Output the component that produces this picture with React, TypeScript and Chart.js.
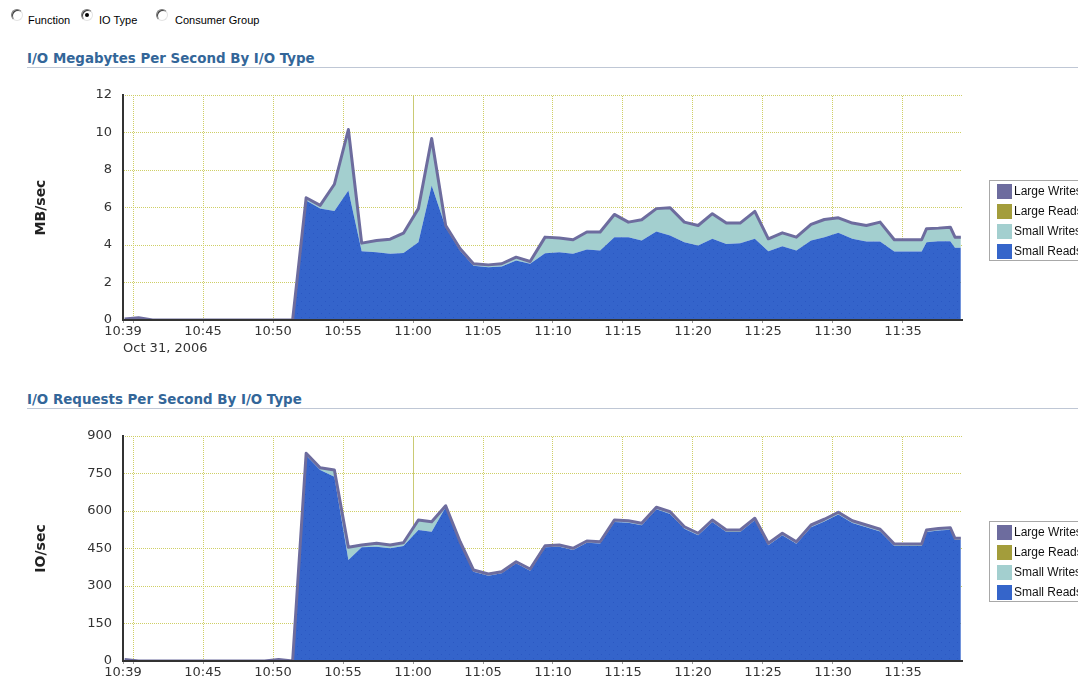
import React, { useEffect, useRef } from 'react';
import { Chart, registerables } from 'chart.js';

Chart.register(...registerables);

// ---------------- DATA ----------------
const sampleTimes = [
  '10:39:24', '10:40:24', '10:41:24', '10:42:24', '10:43:24', '10:44:24', '10:45:24', '10:46:24',
  '10:47:24', '10:48:24', '10:49:24', '10:50:24', '10:51:24', '10:52:22', '10:53:22', '10:54:23',
  '10:55:23', '10:56:20', '10:57:24', '10:58:22', '10:59:19', '11:00:23', '11:01:20', '11:02:20',
  '11:03:22', '11:04:19', '11:05:23', '11:06:20', '11:07:22', '11:08:22', '11:09:26', '11:10:27',
  '11:11:26', '11:12:25', '11:13:22', '11:14:23', '11:15:23', '11:16:20', '11:17:23', '11:18:22',
  '11:19:23', '11:20:22', '11:21:23', '11:22:23', '11:23:22', '11:24:25', '11:25:23', '11:26:23',
  '11:27:23', '11:28:26', '11:29:23', '11:30:23', '11:31:23', '11:32:23', '11:33:22', '11:34:23',
  '11:35:22', '11:36:20', '11:36:41', '11:37:32', '11:38:23', '11:38:43', '11:39:08',
];

// MB/sec
const mbSmallReads = [
  0.04, 0.08, 0, 0, 0, 0, 0, 0, 0, 0, 0, 0, 0, 6.38, 5.95, 5.81,
  6.91, 3.67, 3.62, 3.53, 3.58, 4.15, 7.18, 4.95, 3.7, 2.9, 2.81, 2.85, 3.17, 3.0, 3.56, 3.62,
  3.53, 3.76, 3.71, 4.42, 4.42, 4.24, 4.72, 4.51, 4.15, 3.97, 4.33, 4.06, 4.1, 4.33, 3.67, 3.94,
  3.71, 4.24, 4.42, 4.65, 4.33, 4.19, 4.19, 3.65, 3.65, 3.65, 4.15, 4.2, 4.2, 3.85, 3.85,
];
const mbSmallWrites = [
  0.01, 0.04, 0, 0, 0, 0, 0, 0, 0, 0, 0, 0, 0, 0.14, 0.16, 1.43,
  3.25, 0.43, 0.62, 0.78, 1.05, 1.79, 2.5, 0.09, 0.1, 0.1, 0.13, 0.15, 0.18, 0.12, 0.86, 0.75,
  0.75, 0.93, 0.98, 1.21, 0.8, 1.11, 1.22, 1.48, 1.07, 1.07, 1.34, 1.11, 1.07, 1.46, 0.66, 0.71,
  0.71, 0.86, 0.94, 0.8, 0.84, 0.85, 1.03, 0.63, 0.63, 0.63, 0.72, 0.7, 0.75, 0.57, 0.57,
];
const mbLargeReads = [
  0, 0, 0, 0, 0, 0, 0, 0, 0, 0, 0, 0, 0, 0, 0, 0, 0, 0, 0, 0, 0, 0, 0, 0, 0, 0, 0, 0, 0, 0, 0, 0,
  0, 0, 0, 0, 0, 0, 0, 0, 0, 0, 0, 0, 0, 0, 0, 0, 0, 0, 0, 0, 0, 0, 0, 0, 0, 0, 0, 0, 0, 0, 0,
];
const mbLargeWrites = [
  0, 0, 0, 0, 0, 0, 0, 0, 0, 0, 0, 0, 0, 0, 0, 0, 0, 0, 0, 0, 0, 0, 0, 0, 0, 0, 0, 0, 0, 0, 0, 0,
  0, 0, 0, 0, 0, 0, 0, 0, 0, 0, 0, 0, 0, 0, 0, 0, 0, 0, 0, 0, 0, 0, 0, 0, 0, 0, 0, 0, 0, 0, 0,
];

// IO/sec
const ioSmallReads = [
  4, 0, 0, 0, 0, 0, 0, 0, 0, 0, 0, 4, 0, 822, 764, 737,
  404, 455, 457, 451, 460, 524, 517, 615, 471, 357, 341, 351, 391, 361, 455, 457,
  444, 473, 470, 556, 553, 543, 607, 588, 529, 503, 556, 516, 516, 563, 463, 503,
  469, 535, 558, 586, 552, 535, 518, 460, 460, 460, 516, 522, 525, 484, 484,
];
const ioSmallWrites = [
  2, 0, 0, 0, 0, 0, 0, 0, 0, 0, 0, 2, 0, 9, 9, 27,
  51, 9, 14, 13, 13, 40, 40, 6, 6, 7, 7, 6, 6, 7, 6, 7,
  7, 7, 7, 8, 8, 8, 8, 9, 8, 8, 8, 8, 8, 8, 8, 8,
  8, 9, 9, 9, 9, 9, 9, 8, 8, 8, 8, 8, 8, 7, 7,
];
const ioLargeReads = [
  0, 0, 0, 0, 0, 0, 0, 0, 0, 0, 0, 0, 0, 0, 0, 0, 0, 0, 0, 0, 0, 0, 0, 0, 0, 0, 0, 0, 0, 0, 0, 0,
  0, 0, 0, 0, 0, 0, 0, 0, 0, 0, 0, 0, 0, 0, 0, 0, 0, 0, 0, 0, 0, 0, 0, 0, 0, 0, 0, 0, 0, 0, 0,
];
const ioLargeWrites = [
  0, 0, 0, 0, 0, 0, 0, 0, 0, 0, 0, 0, 0, 0, 0, 0, 0, 0, 0, 0, 0, 0, 0, 0, 0, 0, 0, 0, 0, 0, 0, 0,
  0, 0, 0, 0, 0, 0, 0, 0, 0, 0, 0, 0, 0, 0, 0, 0, 0, 0, 0, 0, 0, 0, 0, 0, 0, 0, 0, 0, 0, 0, 0,
];

const seriesNames = ['Small Reads', 'Small Writes', 'Large Reads', 'Large Writes'];
const seriesColors = ['#3565CA', '#A3CFCF', '#A39D3B', '#6D6C9E'];

const axisStart = '10:39:17';
const axisEnd = '11:39:13';
const dateLabel = 'Oct 31, 2006';
const gridTimes = ['10:40', '10:45', '10:50', '10:55', '11:00', '11:05', '11:10', '11:15', '11:20', '11:25', '11:30', '11:35'];
const hourLine = '11:00';

const mbTicks = [0, 2, 4, 6, 8, 10, 12];
const ioTicks = [0, 150, 300, 450, 600, 750, 900];

const radioOptions = ['Function', 'IO Type', 'Consumer Group'];
const selectedRadio = 'IO Type';
const chartTitles = ['I/O Megabytes Per Second By I/O Type', 'I/O Requests Per Second By I/O Type'];
const yAxisTitles = ['MB/sec', 'IO/sec'];

// ---------------- HELPERS ----------------
const FONT = 'DejaVu Sans';
const SMALL_FONT = 'Liberation Sans';
const parseTime = (t: string) => {
  const [h, m, s] = t.split(':').map(Number);
  return h * 60 + m + (s || 0) / 60;
};
const fmtTime = (v: number) => {
  const h = Math.floor(v / 60 + 1e-9);
  const m = Math.floor(v - h * 60 + 1e-6);
  return `${h}:${String(m).padStart(2, '0')}`;
};

function makeDotPattern(color: string) {
  const c = document.createElement('canvas');
  c.width = 2;
  c.height = 2;
  const g = c.getContext('2d')!;
  g.fillStyle = color;
  g.fillRect(0, 0, 1, 1);
  g.fillRect(1, 1, 1, 1);
  return g.createPattern(c, 'repeat')!;
}
function makeFillPattern(base: string, dot: string) {
  const c = document.createElement('canvas');
  c.width = 8;
  c.height = 8;
  const g = c.getContext('2d')!;
  g.fillStyle = base;
  g.fillRect(0, 0, 8, 8);
  g.fillStyle = dot;
  g.fillRect(1, 1, 1, 1);
  g.fillRect(5, 5, 1, 1);
  return g.createPattern(c, 'repeat')!;
}

const boxLegend = {
  id: 'boxLegend',
  afterDraw(chart: any) {
    const { ctx, chartArea } = chart;
    const cy = (chartArea.top + chartArea.bottom) / 2;
    const x0 = Math.round(chartArea.right + 27);
    const y0 = Math.round(cy - 28);
    ctx.save();
    ctx.fillStyle = '#ffffff';
    ctx.fillRect(x0, y0, 130, 81);
    ctx.strokeStyle = '#A8A8A8';
    ctx.lineWidth = 1;
    ctx.strokeRect(x0 + 0.5, y0 + 0.5, 130, 80);
    const ds = chart.data.datasets.slice().reverse();
    ctx.font = `12px "${SMALL_FONT}"`;
    ctx.textBaseline = 'middle';
    ctx.textAlign = 'left';
    ds.forEach((d: any, i: number) => {
      const sy = y0 + 4 + i * 20;
      ctx.fillStyle = d.legendColor;
      ctx.fillRect(x0 + 8, sy, 15, 15);
      ctx.fillStyle = '#111';
      ctx.fillText(d.label, x0 + 25, sy + 8);
    });
    ctx.restore();
  },
};

function buildConfig(series: number[][], ticks: number[], yTitle: string): any {
  const startMin = parseTime(axisStart);
  const endMin = parseTime(axisEnd);
  const hourMin = parseTime(hourLine);
  const gridDots = makeDotPattern('#CFCF66');
  const bluePattern = makeFillPattern('#3464CB', '#2A57C2');
  const datasets = series.map((vals, i) => ({
    label: seriesNames[i],
    legendColor: seriesColors[i],
    data: sampleTimes.map((t, k) => ({ x: parseTime(t), y: vals[k] })),
    fill: i === 0 ? 'origin' : '-1',
    backgroundColor: i === 0 ? bluePattern : seriesColors[i],
    borderColor: i === 3 ? seriesColors[3] : 'rgba(0,0,0,0)',
    borderWidth: i === 3 ? 3 : 0,
    borderJoinStyle: 'round',
    pointRadius: 0,
    pointHoverRadius: 0,
    tension: 0,
  }));
  return {
    type: 'line',
    data: { datasets },
    plugins: [boxLegend],
    options: {
      animation: false,
      responsive: false,
      devicePixelRatio: 1,
      events: [],
      layout: { padding: { left: 0, top: 15, right: 148, bottom: 0 } },
      plugins: {
        legend: { display: false },
        tooltip: { enabled: false },
        title: { display: false },
        filler: { drawTime: 'beforeDatasetsDraw' },
      },
      scales: {
        x: {
          type: 'linear',
          min: startMin,
          max: endMin,
          afterBuildTicks: (s: any) => {
            s.ticks = [startMin, ...gridTimes.map(parseTime)].map((v) => ({ value: v }));
          },
          afterFit: (s: any) => {
            s.height = 40;
          },
          ticks: {
            autoSkip: false,
            maxRotation: 0,
            padding: 1,
            color: '#333',
            font: { family: FONT, size: 13 },
            callback: (v: number) => {
              if (Math.abs(v - startMin) < 1e-6) return axisStart.slice(0, 5);
              if (v - startMin < 3) return '';
              return fmtTime(v);
            },
          },
          grid: {
            drawTicks: true,
            tickLength: 3,
            tickColor: '#9A9A9A',
            color: (c: any) => {
              const v = c.tick ? c.tick.value : 0;
              if (Math.abs(v - startMin) < 1e-6) return 'rgba(0,0,0,0)';
              if (Math.abs(v - hourMin) < 1e-6) return '#CACA74';
              return gridDots;
            },
          },
          border: { display: true, color: '#333', width: 2, z: 1 },
          title: {
            display: true,
            text: dateLabel,
            align: 'start',
            color: '#333',
            font: { family: FONT, size: 13 },
            padding: { top: 0, bottom: 4 },
          },
        },
        y: {
          type: 'linear',
          stacked: true,
          min: ticks[0],
          max: ticks[ticks.length - 1],
          afterBuildTicks: (s: any) => {
            s.ticks = ticks.map((v) => ({ value: v }));
          },
          afterFit: (s: any) => {
            s.width = 123;
            s.paddingTop = 0;
            s.paddingBottom = 0;
          },
          ticks: {
            padding: 11,
            color: '#333',
            font: { family: FONT, size: 13 },
          },
          grid: {
            drawTicks: false,
            color: (c: any) => (c.tick && c.tick.value === ticks[0] ? 'rgba(0,0,0,0)' : gridDots),
          },
          border: { display: true, color: '#333', width: 2, z: 1 },
          title: {
            display: true,
            text: yTitle,
            color: '#222',
            font: { family: FONT, size: 14, weight: 'bold' },
            padding: { top: 32.5, bottom: 0 },
          },
        },
      },
    },
  };
}

function AreaChart({ series, ticks, yTitle, top }: { series: number[][]; ticks: number[]; yTitle: string; top: number }) {
  const ref = useRef<HTMLCanvasElement>(null);
  useEffect(() => {
    if (!ref.current) return;
    const chart = new Chart(ref.current, buildConfig(series, ticks, yTitle));
    return () => chart.destroy();
  }, []);
  return (
    <canvas
      ref={ref}
      width={1110}
      height={280}
      style={{ position: 'absolute', left: 0, top, width: 1110, height: 280, display: 'block' }}
    />
  );
}

function Radio({ x, label, labelX, checked }: { x: number; label: string; labelX: number; checked: boolean }) {
  return (
    <>
      <div
        style={{
          position: 'absolute',
          left: x,
          top: 9,
          width: 12,
          height: 12,
          borderRadius: '50%',
          boxSizing: 'border-box',
          border: '1px solid',
          borderColor: '#7A7A7A #E4E4E4 #E4E4E4 #7A7A7A',
          background: '#fff',
          boxShadow: 'inset 1px 1px 0 #404040',
        }}
      >
        {checked && (
          <div style={{ position: 'absolute', left: 3, top: 3, width: 4, height: 4, borderRadius: '50%', background: '#000' }} />
        )}
      </div>
      <div style={{ position: 'absolute', left: labelX, top: 14, fontFamily: SMALL_FONT, fontSize: 11, lineHeight: '12px', color: '#000', whiteSpace: 'nowrap' }}>
        {label}
      </div>
    </>
  );
}

function SectionTitle({ text, top }: { text: string; top: number }) {
  return (
    <>
      <div
        style={{
          position: 'absolute',
          left: 27,
          top,
          fontFamily: FONT,
          fontWeight: 'bold',
          fontSize: 13.4,
          lineHeight: '16px',
          color: '#336699',
          whiteSpace: 'nowrap',
        }}
      >
        {text}
      </div>
      <div style={{ position: 'absolute', left: 27, top: top + 16, width: 1100, height: 1, background: '#BFC7D5' }} />
    </>
  );
}

export default function App() {
  const radioX = [11, 81, 156];
  const labelX = [28, 99, 175];
  return (
    <div
      style={{
        position: 'fixed',
        left: 0,
        top: 0,
        width: 1078,
        height: 681,
        overflow: 'hidden',
        background: '#ffffff',
      }}
    >
      {radioOptions.map((r, i) => (
        <Radio key={r} x={radioX[i]} labelX={labelX[i]} label={r} checked={r === selectedRadio} />
      ))}
      <SectionTitle text={chartTitles[0]} top={50.5} />
      <AreaChart series={[mbSmallReads, mbSmallWrites, mbLargeReads, mbLargeWrites]} ticks={mbTicks} yTitle={yAxisTitles[0]} top={80} />
      <SectionTitle text={chartTitles[1]} top={392} />
      <AreaChart series={[ioSmallReads, ioSmallWrites, ioLargeReads, ioLargeWrites]} ticks={ioTicks} yTitle={yAxisTitles[1]} top={421} />
    </div>
  );
}
